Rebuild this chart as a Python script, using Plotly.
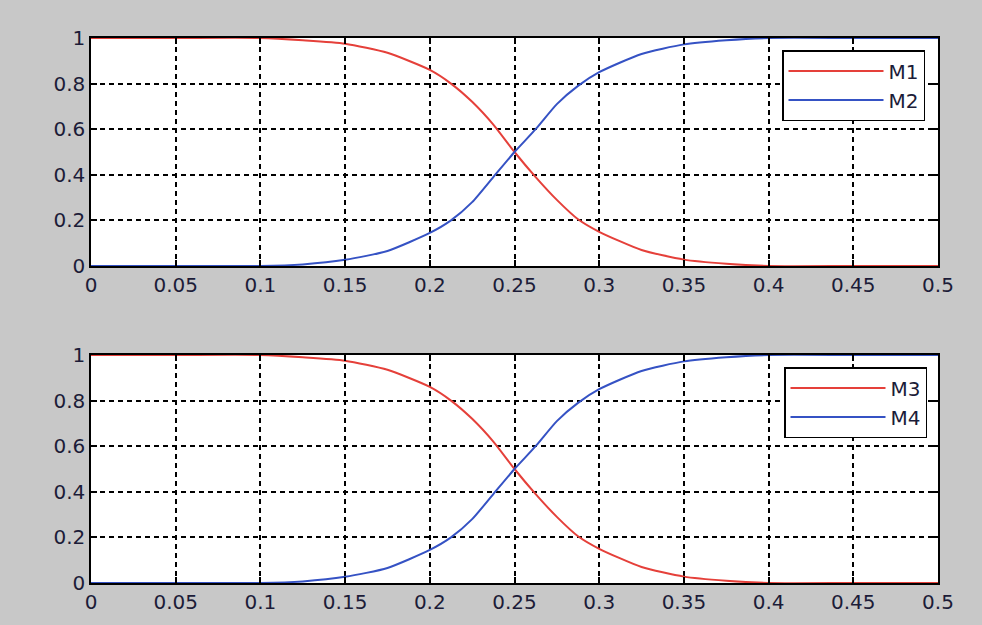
import plotly.graph_objects as go
from plotly.subplots import make_subplots

# x positions where curve values were read
x_vals = [0, 0.05, 0.1, 0.125, 0.15, 0.175, 0.2, 0.2125, 0.225, 0.2375, 0.25,
          0.2625, 0.275, 0.2875, 0.3, 0.325, 0.35, 0.375, 0.4, 0.45, 0.5]
m1 = [1, 1, 1, 0.99, 0.975, 0.935, 0.86, 0.80, 0.72, 0.62, 0.50,
      0.39, 0.29, 0.205, 0.15, 0.07, 0.028, 0.01, 0, 0, 0]
m2 = [0, 0, 0, 0.007, 0.027, 0.066, 0.145, 0.20, 0.28, 0.39, 0.50,
      0.60, 0.71, 0.79, 0.85, 0.93, 0.972, 0.99, 1, 1, 1]
m3 = [1, 1, 1, 0.99, 0.975, 0.935, 0.86, 0.80, 0.72, 0.62, 0.50,
      0.39, 0.29, 0.205, 0.15, 0.07, 0.028, 0.01, 0, 0, 0]
m4 = [0, 0, 0, 0.007, 0.027, 0.066, 0.145, 0.20, 0.28, 0.39, 0.50,
      0.60, 0.71, 0.79, 0.85, 0.93, 0.972, 0.99, 1, 1, 1]

x_ticks = [0, 0.05, 0.1, 0.15, 0.2, 0.25, 0.3, 0.35, 0.4, 0.45, 0.5]
x_tick_text = ["0", "0.05", "0.1", "0.15", "0.2", "0.25", "0.3", "0.35", "0.4", "0.45", "0.5"]
y_ticks = [0, 0.2, 0.4, 0.6, 0.8, 1]
y_tick_text = ["0", "0.2", "0.4", "0.6", "0.8", "1"]

RED = "#e5403a"
BLUE = "#3552c4"
TXT = "#1c1c38"
FONT = "DejaVu Sans"

fig = make_subplots(rows=2, cols=1)

line_kw = dict(width=2, shape="spline", smoothing=0.6)
fig.add_trace(go.Scatter(x=x_vals, y=m1, mode="lines", name="M1",
                         line=dict(color=RED, **line_kw), legend="legend"), row=1, col=1)
fig.add_trace(go.Scatter(x=x_vals, y=m2, mode="lines", name="M2",
                         line=dict(color=BLUE, **line_kw), legend="legend"), row=1, col=1)
fig.add_trace(go.Scatter(x=x_vals, y=m3, mode="lines", name="M3",
                         line=dict(color=RED, **line_kw), legend="legend2"), row=2, col=1)
fig.add_trace(go.Scatter(x=x_vals, y=m4, mode="lines", name="M4",
                         line=dict(color=BLUE, **line_kw), legend="legend2"), row=2, col=1)

axis_common = dict(
    showline=True, linecolor="black", linewidth=1.5, mirror="ticks",
    ticks="inside", ticklen=6, tickcolor="black", tickwidth=1.5,
    showgrid=True, gridcolor="black", gridwidth=1.5, griddash="5px,4px",
    zeroline=False, tickfont=dict(family=FONT, size=20, color=TXT),
)

top_dom = [(583 - 266) / 545, 1.0]
bot_dom = [0.0, (583 - 355) / 545]

fig.update_xaxes(**axis_common, range=[0, 0.5], tickvals=x_ticks, ticktext=x_tick_text,
                 domain=[0, 1])
fig.update_yaxes(**axis_common, range=[0, 1], tickvals=y_ticks, ticktext=y_tick_text)
fig.update_yaxes(domain=top_dom, row=1, col=1)
fig.update_yaxes(domain=bot_dom, row=2, col=1)

legend_common = dict(
    bgcolor="white", bordercolor="black", borderwidth=1.5,
    font=dict(family=FONT, size=20, color=TXT),
    xanchor="right", yanchor="top", tracegroupgap=0, itemwidth=95,
)

fig.update_layout(
    width=982, height=625,
    margin=dict(l=91, r=44, t=38, b=42),
    paper_bgcolor="#c8c8c8", plot_bgcolor="white",
    showlegend=True,
    legend=dict(**legend_common, x=(925 - 91) / 847, y=(583 - 50) / 545),
    legend2=dict(**legend_common, x=(927 - 91) / 847, y=(583 - 367) / 545),
)

fig.write_html("out.html")
